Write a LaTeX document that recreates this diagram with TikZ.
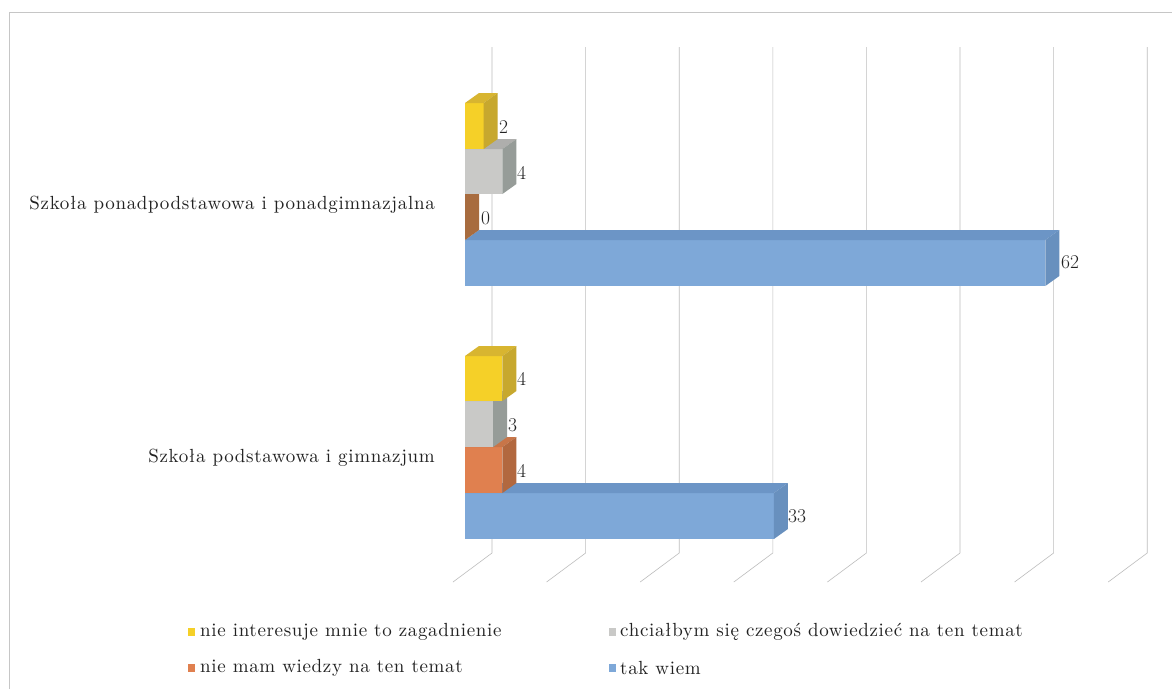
\documentclass[tikz,border=0pt]{standalone}
\usepackage{fontspec}
\newfontfamily\spacedfam{lmroman10-regular.otf}[LetterSpace=3.5]
\definecolor{yfront}{HTML}{F5D028}
\definecolor{yside}{HTML}{C7A82E}
\definecolor{ytop}{HTML}{D8B530}
\definecolor{gfront}{HTML}{C9C9C7}
\definecolor{gside}{HTML}{969C98}
\definecolor{gtop}{HTML}{AEAEAC}
\definecolor{brside}{HTML}{A86C3F}
\definecolor{ofront}{HTML}{E0804F}
\definecolor{oside}{HTML}{B2683F}
\definecolor{otop}{HTML}{C87548}
\definecolor{bfront}{HTML}{7EA8D8}
\definecolor{bside}{HTML}{6890BE}
\definecolor{btop}{HTML}{6C95C6}
\definecolor{gridc}{HTML}{BDBDBD}
\definecolor{txt}{HTML}{222222}
\newcommand\cbar[6]{%
  \fill[#4] (465,#1) rectangle ({465+#3},#2);
  \fill[#6] (465,#1) -- (479,{#1-10}) -- ({479+#3},{#1-10}) -- ({465+#3},#1) -- cycle;
  \fill[#5] ({465+#3},#1) -- ({479+#3},{#1-10}) -- ({479+#3},{#2-10}) -- ({465+#3},#2) -- cycle;
}
\newcommand\spacedfont{\spacedfam\fontsize{19}{22}\selectfont}
\begin{document}
\begin{tikzpicture}[x=1pt,y=-1pt,
  gridline/.style={draw=gridc,line width=0.6pt},
  frameline/.style={draw=gray!45,line width=0.7pt},
  catlabel/.style={anchor=east,inner sep=0pt,text=txt,font=\spacedfont},
  vallabel/.style={anchor=west,inner sep=0pt,text=txt,font=\fontsize{19.5}{22}\selectfont},
  legtext/.style={anchor=west,inner sep=0pt,text=txt,font=\spacedfont},
  legmark/.style={minimum width=7pt,minimum height=8pt,inner sep=0pt}]
\useasboundingbox (0,0) rectangle (1172,689);
\fill[white] (0,0) rectangle (1172,689);
% frame
\draw[frameline] (9,689) -- (9,12) -- (1172,12);
% gridlines
\foreach \k in {0,...,7}{
  \draw[gridline] ({492+93.6*\k},47) -- ({492+93.6*\k},553) -- ({453+93.6*\k},582);
}
% top group
\cbar{240}{286}{580.3}{bfront}{bside}{btop}
\fill[brside] (465,240) -- (479,230) -- (479,184) -- (465,194) -- cycle;
\cbar{149}{194}{37.4}{gfront}{gside}{gtop}
\cbar{103}{149}{18.7}{yfront}{yside}{ytop}
% bottom group
\cbar{493}{539}{308.9}{bfront}{bside}{btop}
\cbar{447}{493}{37.4}{ofront}{oside}{otop}
\cbar{401}{447}{28.1}{gfront}{gside}{gtop}
\cbar{356}{401}{37.4}{yfront}{yside}{ytop}
% value labels
\node[vallabel] (v1) at (499,127) {2};
\node[vallabel] (v2) at (517,173) {4};
\node[vallabel] (v3) at (481,218) {0};
\node[vallabel] (v4) at (1061,262) {62};
\node[vallabel] (v5) at (517,379) {4};
\node[vallabel] (v6) at (508,425) {3};
\node[vallabel] (v7) at (517,471) {4};
\node[vallabel] (v8) at (788,516) {33};
% category labels
\node[catlabel] (c1) at (435,205) {Szkoła ponadpodstawowa i ponadgimnazjalna};
\node[catlabel] (c2) at (435,458) {Szkoła podstawowa i gimnazjum};
% legend
\node[legmark,fill=yfront] (m1) at (191,632) {};
\node[legtext] (l1) at (200,632) {nie interesuje mnie to zagadnienie};
\node[legmark,fill=gfront] (m2) at (612,632) {};
\node[legtext] (l2) at (620,632) {chciałbym się czegoś dowiedzieć na ten temat};
\node[legmark,fill=ofront] (m3) at (191,668) {};
\node[legtext] (l3) at (200,668) {nie mam wiedzy na ten temat};
\node[legmark,fill=bfront] (m4) at (612,668) {};
\node[legtext] (l4) at (620,668) {tak wiem};
\end{tikzpicture}
\end{document}
